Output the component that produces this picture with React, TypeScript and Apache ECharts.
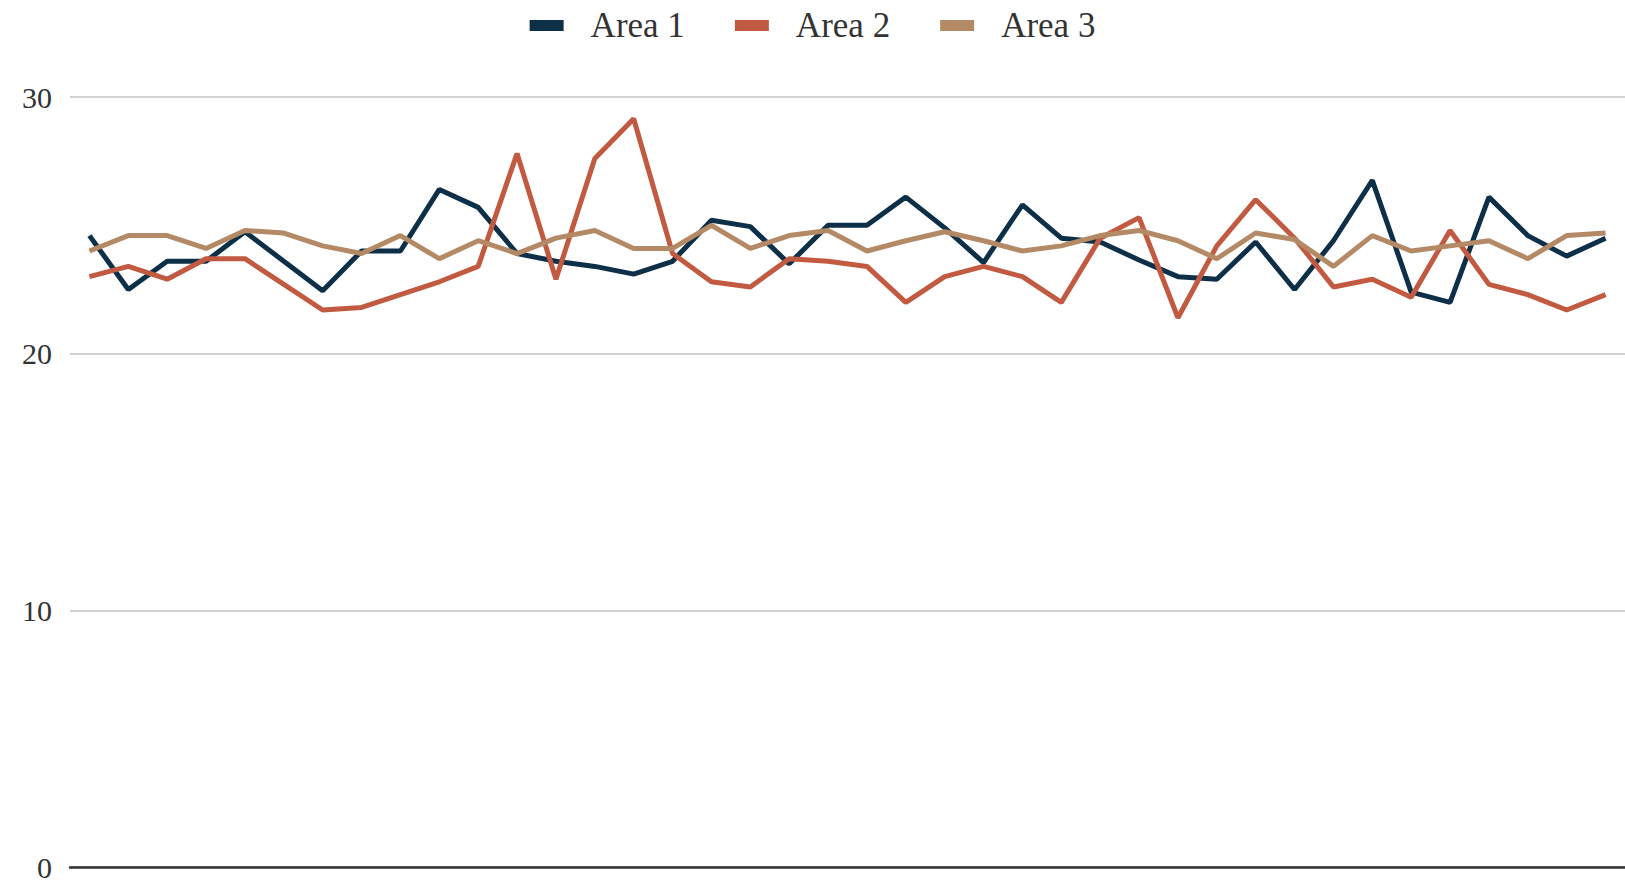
import React, { useEffect, useRef } from "react";
import * as echarts from "echarts";

// One category per reading; the axis labels themselves are not shown.
const categories = [
  "1", "2", "3", "4", "5", "6", "7", "8", "9", "10",
  "11", "12", "13", "14", "15", "16", "17", "18", "19", "20",
  "21", "22", "23", "24", "25", "26", "27", "28", "29", "30",
  "31", "32", "33", "34", "35", "36", "37", "38", "39", "40",
];

const area1 = [
  24.6, 22.5, 23.6, 23.6, 24.75, 23.6, 22.45, 24.0, 24.0, 26.4,
  25.7, 23.9, 23.6, 23.4, 23.1, 23.6, 25.2, 24.95, 23.5, 25.0,
  25.0, 26.1, 24.9, 23.55, 25.8, 24.5, 24.35, 23.65, 23.0, 22.9,
  24.35, 22.5, 24.4, 26.75, 22.4, 22.0, 26.1, 24.6, 23.8, 24.5,
];

const area2 = [
  23.0, 23.4, 22.9, 23.7, 23.7, 22.7, 21.7, 21.8, 22.3, 22.8,
  23.4, 27.8, 22.9, 27.6, 29.15, 23.9, 22.8, 22.6, 23.7, 23.6,
  23.4, 22.0, 23.0, 23.4, 23.0, 22.0, 24.5, 25.3, 21.4, 24.2,
  26.0, 24.5, 22.6, 22.9, 22.2, 24.8, 22.7, 22.3, 21.7, 22.3,
];

const area3 = [
  24.0, 24.6, 24.6, 24.1, 24.8, 24.7, 24.2, 23.9, 24.6, 23.7,
  24.4, 23.9, 24.5, 24.8, 24.1, 24.1, 25.0, 24.1, 24.6, 24.8,
  24.0, 24.4, 24.75, 24.4, 24.0, 24.2, 24.6, 24.8, 24.4, 23.7,
  24.7, 24.45, 23.4, 24.6, 24.0, 24.2, 24.4, 23.7, 24.6, 24.7,
];

const seriesNames = ["Area 1", "Area 2", "Area 3"];
const seriesColors = ["#0d3048", "#c15a41", "#b38a65"];
const yTicks = { min: 0, max: 30, interval: 10 };

const FONT = "'Liberation Serif', 'DejaVu Serif', serif";

export default function App() {
  const ref = useRef<HTMLDivElement>(null);

  useEffect(() => {
    if (!ref.current) return;
    const chart = echarts.init(ref.current, undefined, { renderer: "svg" });
    const values = [area1, area2, area3];

    chart.setOption({
      animation: false,
      backgroundColor: "#ffffff",
      color: seriesColors,
      legend: {
        top: 3,
        left: "center",
        icon: "rect",
        itemWidth: 34,
        itemHeight: 11,
        itemGap: 50,
        textStyle: {
          fontFamily: FONT,
          fontSize: 35,
          color: "#333333",
          padding: [0, 0, 0, 22],
        },
        data: seriesNames,
      },
      grid: { left: 70, right: 0, top: 97, bottom: 16, containLabel: false },
      xAxis: {
        type: "category",
        data: categories,
        boundaryGap: true,
        axisLine: { show: true, lineStyle: { color: "#333333", width: 2.5 } },
        axisTick: { show: false },
        axisLabel: { show: false },
        splitLine: { show: false },
      },
      yAxis: {
        type: "value",
        min: yTicks.min,
        max: yTicks.max,
        interval: yTicks.interval,
        axisLine: { show: false },
        axisTick: { show: false },
        axisLabel: {
          fontFamily: FONT,
          fontSize: 30,
          lineHeight: 30,
          color: "#333333",
          margin: 18,
        },
        splitLine: { lineStyle: { color: "#d2d2d2", width: 2 } },
      },
      series: seriesNames.map((name, i) => ({
        name,
        type: "line",
        data: values[i],
        symbol: "none",
        lineStyle: { width: 5, color: seriesColors[i] },
        itemStyle: { color: seriesColors[i] },
      })),
    });

    return () => chart.dispose();
  }, []);

  return (
    <div
      ref={ref}
      style={{ position: "fixed", left: 0, top: 0, width: 1625, height: 883 }}
    />
  );
}
